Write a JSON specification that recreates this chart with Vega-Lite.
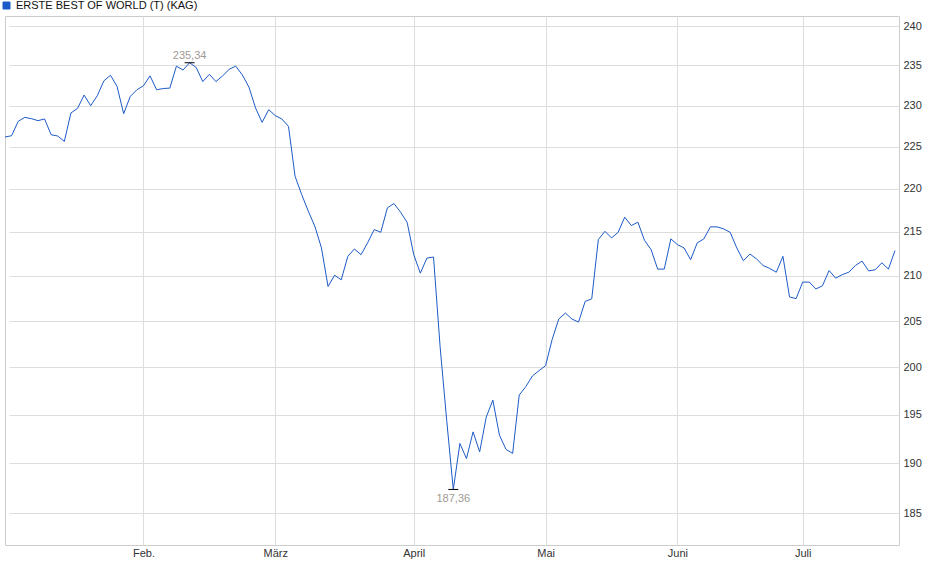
{
  "$schema": "https://vega.github.io/schema/vega-lite/v6.json",
  "width": 894,
  "height": 529,
  "autosize": {"type": "none"},
  "padding": {"left": 5, "top": 16, "right": 41, "bottom": 34},
  "background": "#ffffff",
  "config": {
    "font": "Liberation Sans",
    "view": {"stroke": "#cccccc", "strokeWidth": 1},
    "locale": {"number": {"decimal": ",", "thousands": ".", "grouping": [3], "currency": ["", " €"]}}
  },
  "data": {"values": [
    {"d":"2025-01-02","v":226.18},{"d":"2025-01-03","v":226.34},{"d":"2025-01-07","v":228.08},{"d":"2025-01-08","v":228.57},
    {"d":"2025-01-09","v":228.41},{"d":"2025-01-10","v":228.17},{"d":"2025-01-13","v":228.37},{"d":"2025-01-14","v":226.46},
    {"d":"2025-01-15","v":226.30},{"d":"2025-01-16","v":225.65},{"d":"2025-01-17","v":229.11},{"d":"2025-01-20","v":229.67},
    {"d":"2025-01-21","v":231.31},{"d":"2025-01-22","v":230.00},{"d":"2025-01-23","v":231.23},{"d":"2025-01-24","v":233.07},
    {"d":"2025-01-27","v":233.77},{"d":"2025-01-28","v":232.37},{"d":"2025-01-29","v":229.02},{"d":"2025-01-30","v":231.14},
    {"d":"2025-01-31","v":231.96},{"d":"2025-02-03","v":232.46},{"d":"2025-02-04","v":233.69},{"d":"2025-02-05","v":231.96},
    {"d":"2025-02-06","v":232.12},{"d":"2025-02-07","v":232.17},{"d":"2025-02-10","v":234.91},{"d":"2025-02-11","v":234.42},
    {"d":"2025-02-12","v":235.34},{"d":"2025-02-13","v":234.75},{"d":"2025-02-14","v":232.98},{"d":"2025-02-17","v":233.89},
    {"d":"2025-02-18","v":232.98},{"d":"2025-02-19","v":233.69},{"d":"2025-02-20","v":234.51},{"d":"2025-02-21","v":234.91},
    {"d":"2025-02-24","v":233.81},{"d":"2025-02-25","v":232.30},{"d":"2025-02-26","v":229.72},{"d":"2025-02-27","v":227.96},
    {"d":"2025-02-28","v":229.51},{"d":"2025-03-03","v":228.78},{"d":"2025-03-04","v":228.37},{"d":"2025-03-05","v":227.47},
    {"d":"2025-03-06","v":221.49},{"d":"2025-03-07","v":219.34},{"d":"2025-03-10","v":217.40},{"d":"2025-03-11","v":215.65},
    {"d":"2025-03-12","v":213.17},{"d":"2025-03-13","v":208.82},{"d":"2025-03-14","v":210.08},{"d":"2025-03-17","v":209.56},
    {"d":"2025-03-18","v":212.21},{"d":"2025-03-19","v":213.05},{"d":"2025-03-20","v":212.40},{"d":"2025-03-21","v":213.74},
    {"d":"2025-03-24","v":215.27},{"d":"2025-03-25","v":214.96},{"d":"2025-03-26","v":217.78},{"d":"2025-03-27","v":218.29},
    {"d":"2025-03-28","v":217.28},{"d":"2025-03-31","v":216.10},{"d":"2025-04-01","v":212.40},{"d":"2025-04-02","v":210.31},
    {"d":"2025-04-03","v":212.02},{"d":"2025-04-04","v":212.13},{"d":"2025-04-07","v":202.20},{"d":"2025-04-08","v":194.40},
    {"d":"2025-04-09","v":187.36},{"d":"2025-04-10","v":192.02},{"d":"2025-04-11","v":190.48},{"d":"2025-04-14","v":193.21},
    {"d":"2025-04-15","v":191.16},{"d":"2025-04-16","v":194.75},{"d":"2025-04-17","v":196.52},{"d":"2025-04-22","v":192.87},
    {"d":"2025-04-23","v":191.41},{"d":"2025-04-24","v":191.00},{"d":"2025-04-25","v":197.05},{"d":"2025-04-28","v":197.94},
    {"d":"2025-04-29","v":199.07},{"d":"2025-04-30","v":199.64},{"d":"2025-05-02","v":200.17},{"d":"2025-05-05","v":203.00},
    {"d":"2025-05-06","v":205.22},{"d":"2025-05-07","v":205.88},{"d":"2025-05-08","v":205.22},{"d":"2025-05-09","v":204.89},
    {"d":"2025-05-12","v":207.16},{"d":"2025-05-13","v":207.45},{"d":"2025-05-14","v":214.12},{"d":"2025-05-15","v":215.07},
    {"d":"2025-05-16","v":214.31},{"d":"2025-05-19","v":214.95},{"d":"2025-05-20","v":216.70},{"d":"2025-05-21","v":215.73},
    {"d":"2025-05-22","v":216.12},{"d":"2025-05-23","v":214.04},{"d":"2025-05-26","v":212.98},{"d":"2025-05-27","v":210.77},
    {"d":"2025-05-28","v":210.77},{"d":"2025-05-30","v":214.20},{"d":"2025-06-02","v":213.54},{"d":"2025-06-03","v":213.17},
    {"d":"2025-06-04","v":211.83},{"d":"2025-06-05","v":213.74},{"d":"2025-06-06","v":214.20},{"d":"2025-06-10","v":215.58},
    {"d":"2025-06-11","v":215.58},{"d":"2025-06-12","v":215.35},{"d":"2025-06-13","v":214.95},{"d":"2025-06-16","v":213.17},
    {"d":"2025-06-17","v":211.72},{"d":"2025-06-18","v":212.48},{"d":"2025-06-20","v":211.91},{"d":"2025-06-23","v":211.18},
    {"d":"2025-06-24","v":210.84},{"d":"2025-06-25","v":210.42},{"d":"2025-06-26","v":212.21},{"d":"2025-06-27","v":207.66},
    {"d":"2025-06-30","v":207.47},{"d":"2025-07-01","v":209.31},{"d":"2025-07-02","v":209.31},{"d":"2025-07-03","v":208.54},
    {"d":"2025-07-04","v":208.90},{"d":"2025-07-07","v":210.61},{"d":"2025-07-08","v":209.75},{"d":"2025-07-09","v":210.15},
    {"d":"2025-07-10","v":210.42},{"d":"2025-07-11","v":211.18},{"d":"2025-07-14","v":211.67},{"d":"2025-07-15","v":210.57},
    {"d":"2025-07-16","v":210.69},{"d":"2025-07-17","v":211.48},{"d":"2025-07-18","v":210.77},{"d":"2025-07-21","v":212.87}
  ]},
  "encoding": {
    "x": {
      "field": "d", "type": "ordinal", "sort": null,
      "scale": {"type": "point", "padding": 0, "range": [0, 890]},
      "axis": {
        "title": null, "orient": "bottom",
        "values": ["2025-02-03","2025-03-03","2025-04-01","2025-05-02","2025-06-02","2025-07-01"],
        "labelExpr": "datum.value == '2025-02-03' ? 'Feb.' : datum.value == '2025-03-03' ? 'März' : datum.value == '2025-04-01' ? 'April' : datum.value == '2025-05-02' ? 'Mai' : datum.value == '2025-06-02' ? 'Juni' : 'Juli'",
        "labelAngle": 0, "labelFontSize": 11, "labelColor": "#333333", "labelFont": "Liberation Sans",
        "labelPadding": 2, "ticks": false, "domain": false,
        "grid": true, "gridColor": "#dddddd", "gridWidth": 1
      }
    },
    "y": {
      "field": "v", "type": "quantitative",
      "scale": {"type": "log", "domain": [181.88, 241.29], "nice": false, "zero": false},
      "axis": {
        "title": null, "orient": "right",
        "values": [185, 190, 195, 200, 205, 210, 215, 220, 225, 230, 235, 240],
        "format": "d",
        "labelFontSize": 11, "labelColor": "#333333", "labelFont": "Liberation Sans",
        "labelPadding": 4, "ticks": false, "domain": false,
        "grid": true, "gridColor": "#dddddd", "gridWidth": 1
      }
    }
  },
  "layer": [
    {
      "mark": {"type": "line", "color": "#1c5ac8", "strokeWidth": 1, "interpolate": "linear"},
      "encoding": {
        "color": {
          "datum": "ERSTE BEST OF WORLD (T) (KAG)",
          "scale": {"range": ["#1c5ac8"]},
          "legend": {
            "title": null, "orient": "none", "legendX": -4, "legendY": -16,
            "symbolType": "square", "symbolSize": 49, "symbolFillColor": "#1c5ac8",
            "symbolStrokeColor": "#0d2f6e", "symbolStrokeWidth": 1, "symbolOpacity": 1,
            "labelFontSize": 11, "labelColor": "#111111", "labelFont": "Liberation Sans",
            "labelLimit": 400,
            "labelOffset": 4, "padding": 0, "rowPadding": 0
          }
        }
      }
    },
    {
      "transform": [
        {"joinaggregate": [{"op": "max", "field": "v", "as": "vmax"}, {"op": "min", "field": "v", "as": "vmin"}]},
        {"filter": "datum.v == datum.vmax || datum.v == datum.vmin"}
      ],
      "mark": {"type": "tick", "color": "#000000", "size": 10, "thickness": 1, "opacity": 1}
    },
    {
      "transform": [
        {"joinaggregate": [{"op": "max", "field": "v", "as": "vmax"}]},
        {"filter": "datum.v == datum.vmax"}
      ],
      "mark": {"type": "text", "baseline": "alphabetic", "align": "center", "dy": -4, "fontSize": 11, "color": "#a09a94", "font": "Liberation Sans"},
      "encoding": {"text": {"field": "v", "type": "quantitative", "format": ".2f"}}
    },
    {
      "transform": [
        {"joinaggregate": [{"op": "min", "field": "v", "as": "vmin"}]},
        {"filter": "datum.v == datum.vmin"}
      ],
      "mark": {"type": "text", "baseline": "top", "align": "center", "dy": 4, "fontSize": 11, "color": "#a09a94", "font": "Liberation Sans"},
      "encoding": {"text": {"field": "v", "type": "quantitative", "format": ".2f"}}
    }
  ]
}
